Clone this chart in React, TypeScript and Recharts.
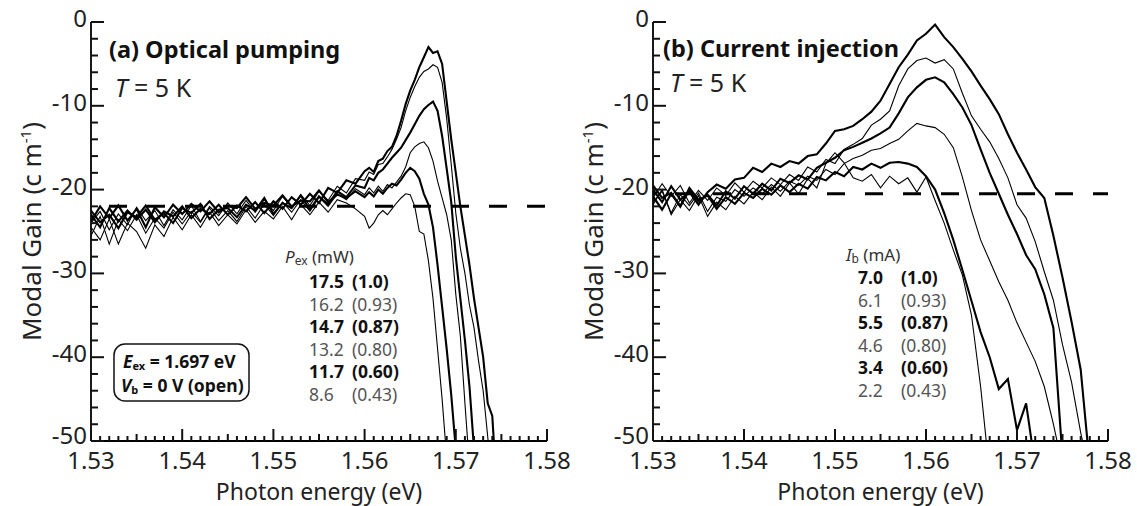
import { LineChart, Line, XAxis, YAxis, ReferenceLine } from "recharts";

const FONT = "'Noto Sans', 'DejaVu Sans', sans-serif";

// ---- axis ticks ----
const xMajorTicks = [1.53, 1.54, 1.55, 1.56, 1.57, 1.58];
const yMajorTicks = [0, -10, -20, -30, -40, -50];
const xTicks = Array.from({ length: 51 }, (_, i) => +(1.53 + i * 0.001).toFixed(3));
const yTicks = Array.from({ length: 26 }, (_, i) => -2 * i);

// ---- (a) optical pumping ----
const energyA = [
  1.530, 1.531, 1.532, 1.533, 1.534, 1.535, 1.536, 1.537, 1.538, 1.539,
  1.540, 1.541, 1.542, 1.543, 1.544, 1.545, 1.546, 1.547, 1.548, 1.549,
  1.550, 1.551, 1.552, 1.553, 1.554, 1.555, 1.556, 1.557, 1.558, 1.559,
  1.560, 1.5605, 1.561, 1.5615, 1.562, 1.5625, 1.563, 1.5635, 1.564, 1.5645,
  1.565, 1.5655, 1.566, 1.5665, 1.567, 1.5675, 1.568, 1.5685, 1.569, 1.5695,
  1.570, 1.5705, 1.571, 1.5715, 1.572, 1.5725, 1.573, 1.5735, 1.574, 1.5745,
];
const gainA175 = [
  -23.0, -24.5, -22.2, -23.8, -22.5, -23.6, -22.4, -23.9, -22.6, -23.2,
  -22.0, -23.4, -22.3, -22.9, -21.8, -23.0, -21.9, -22.6, -21.5, -22.8,
  -21.4, -22.3, -20.9, -21.8, -20.5, -21.6, -19.8, -20.4, -18.9, -19.3,
  -17.8, -17.4, -17.9, -16.6, -16.3, -15.4, -14.9, -13.6, -11.8, -9.8,
  -8.2, -6.9, -5.4, -4.2, -3.0, -3.7, -3.5, -5.0, -9.5, -14.0,
  -18.0, -22.0, -25.5, -29.0, -33.0, -36.5, -40.0, -45.5, -47.0, -56,
];
const gainA162 = [
  -24.0, -22.6, -24.8, -22.9, -24.2, -22.1, -23.7, -22.5, -24.3, -22.4,
  -23.6, -21.9, -23.8, -22.0, -23.1, -21.6, -22.9, -21.3, -22.7, -21.2,
  -22.5, -20.8, -22.1, -20.6, -21.9, -20.2, -21.3, -19.6, -20.4, -18.7,
  -18.9, -17.9, -18.2, -17.0, -16.9, -16.1, -15.2, -14.0, -12.6, -10.6,
  -9.0, -7.7, -6.6, -5.9, -5.6, -5.1, -5.4, -7.2, -11.5, -17.0,
  -22.8, -27.0, -30.0, -33.8, -36.5, -40.5, -44.0, -49.5, -55, null,
];
const gainA147 = [
  -22.5, -23.9, -23.0, -24.6, -22.7, -23.3, -21.9, -23.6, -22.8, -24.0,
  -22.2, -22.8, -21.7, -23.5, -22.4, -22.2, -23.3, -21.8, -22.5, -21.0,
  -22.9, -21.6, -22.2, -20.7, -22.4, -20.8, -21.8, -20.2, -20.9, -19.5,
  -19.8, -18.6, -18.9, -18.0, -17.6, -16.9, -16.2, -15.6, -15.0, -14.1,
  -13.2, -12.2, -11.2, -10.4, -9.9, -9.5, -10.6, -13.6, -17.5, -21.5,
  -28.0, -33.0, -38.0, -43.5, -51, null, null, null, null, null,
];
const gainA132 = [
  -25.5, -23.2, -26.5, -23.6, -24.9, -23.0, -25.2, -23.4, -24.6, -22.7,
  -24.1, -22.6, -23.9, -22.2, -23.7, -22.5, -23.8, -22.0, -23.4, -21.7,
  -23.1, -21.5, -22.7, -21.2, -22.6, -20.9, -22.0, -20.5, -21.2, -19.9,
  -20.6, -19.8, -20.4, -19.6, -20.2, -19.4, -19.8, -19.1, -18.4, -17.3,
  -15.6, -14.9, -14.5, -14.3, -15.0, -16.6, -19.0, -21.0, -23.0, -26.0,
  -32.5, -37.5, -45.5, -53, null, null, null, null, null, null,
];
const gainA117 = [
  -23.8, -22.0, -23.4, -21.9, -23.7, -22.3, -24.5, -22.1, -23.3, -21.8,
  -22.9, -21.7, -22.6, -21.4, -22.7, -21.9, -22.2, -20.9, -22.3, -21.6,
  -21.9, -20.7, -22.0, -21.3, -21.4, -20.1, -21.5, -20.6, -21.0, -20.2,
  -20.9, -20.3, -20.8, -20.0, -20.5, -19.8, -19.3, -19.5, -18.8, -18.0,
  -17.4, -17.8, -18.7, -20.5, -21.8, -24.5, -29.0, -34.0, -39.0, -44.5,
  -51, null, null, null, null, null, null, null, null, null,
];
const gainA86 = [
  -24.5, -26.0, -23.5, -26.5, -24.0, -25.0, -27.0, -24.2, -25.6, -23.3,
  -24.8, -23.0, -24.5, -22.7, -24.3, -23.0, -24.1, -22.4, -23.9, -22.6,
  -23.5, -22.0, -23.6, -21.8, -23.0, -21.5, -22.7, -21.2, -21.6, -22.3,
  -23.2, -24.6, -24.0, -23.0, -22.5, -23.0, -22.3, -21.6, -21.0, -20.5,
  -20.6, -22.0, -25.0, -25.3, -28.5, -33.0, -39.0, -45.0, -52, null,
  null, null, null, null, null, null, null, null, null, null,
];
const powersA = ["17.5", "16.2", "14.7", "13.2", "11.7", "8.6"];

// ---- (b) current injection ----
const energyB = [
  1.530, 1.531, 1.532, 1.533, 1.534, 1.535, 1.536, 1.537, 1.538, 1.539,
  1.540, 1.541, 1.542, 1.543, 1.544, 1.545, 1.546, 1.547, 1.548, 1.549,
  1.550, 1.551, 1.552, 1.553, 1.554, 1.555, 1.556, 1.557, 1.558, 1.559,
  1.560, 1.561, 1.562, 1.563, 1.564, 1.565, 1.566, 1.567, 1.568, 1.569,
  1.570, 1.571, 1.572, 1.573, 1.574, 1.575, 1.576, 1.577, 1.578,
];
const gainB70 = [
  -20.0, -21.5, -19.6, -21.2, -20.3, -21.8, -20.3, -19.4, -19.9, -18.8,
  -18.6, -17.4, -17.9, -16.9, -17.3, -16.6, -16.9, -16.0, -15.8, -14.5,
  -13.0, -12.8, -12.4, -11.6, -10.7, -9.4, -7.4, -5.4, -3.9, -2.2,
  -1.4, -0.3, -1.8, -3.0, -4.4, -5.9, -7.6, -9.2, -11.0, -13.4,
  -15.6, -17.6, -19.7, -21.0, -25.5, -30.5, -35.8, -41.5, -53,
];
const gainB61 = [
  -21.0, -19.3, -20.8, -19.5, -21.6, -20.1, -21.3, -19.8, -20.7, -19.2,
  -20.3, -19.0, -19.8, -18.6, -19.4, -18.2, -18.9, -17.3, -17.9, -16.4,
  -16.9, -15.2, -14.6, -13.9, -12.3, -11.6, -10.6, -7.6, -5.6, -4.6,
  -4.3, -4.9, -4.5, -5.6, -8.5, -11.2, -12.8, -14.3, -16.3, -18.6,
  -21.8, -23.4, -26.2, -29.8, -33.2, -38.5, -43.0, -49.0, -54,
];
const gainB55 = [
  -19.5, -21.0, -20.4, -22.0, -20.0, -21.4, -20.6, -21.9, -20.2, -21.1,
  -19.6, -20.5, -19.3, -20.1, -18.7, -19.2, -18.3, -18.8, -17.4, -16.8,
  -16.2, -15.3, -14.9, -14.4, -13.9, -13.3, -12.6, -10.9, -9.0, -7.8,
  -6.9, -6.6, -7.2, -8.6, -10.2, -12.3, -15.2, -18.0, -20.5, -23.0,
  -25.3, -27.8, -29.5, -32.5, -36.5, -52, null, null, null,
];
const gainB46 = [
  -21.5, -20.2, -22.8, -20.6, -21.9, -20.4, -22.6, -20.9, -21.4, -20.0,
  -20.8, -19.8, -20.5, -19.4, -20.2, -19.0, -19.5, -18.4, -18.9, -17.6,
  -18.2, -16.9, -16.3, -15.9, -15.3, -15.1, -14.5, -14.0, -13.0, -12.1,
  -12.4, -12.6, -13.4, -15.0, -18.5, -22.5, -26.0, -28.5, -31.0, -33.2,
  -35.9, -38.2, -40.5, -43.5, -48.0, -53, null, null, null,
];
const gainB34 = [
  -20.8, -22.4, -20.5, -22.0, -19.8, -21.2, -20.7, -22.3, -20.9, -21.7,
  -20.4, -21.0, -19.9, -20.6, -19.5, -20.3, -19.3, -19.9, -18.5, -18.9,
  -17.9, -18.4, -17.3, -17.6, -16.9, -17.4, -16.8, -16.7, -16.9, -17.3,
  -18.4, -20.0, -22.8, -26.0, -29.6, -33.3, -37.0, -40.0, -43.8, -42.6,
  -48.7, -45.5, -53, null, null, null, null, null, null,
];
const gainB22 = [
  -21.8, -20.0, -23.0, -21.2, -22.5, -20.7, -23.2, -21.5, -22.4, -20.8,
  -21.7, -20.3, -21.2, -19.7, -20.8, -19.2, -20.5, -18.7, -19.8, -16.9,
  -15.6, -16.8, -18.6, -19.0, -18.2, -19.8, -18.4, -19.3, -18.6, -20.3,
  -18.5, -21.3, -24.0, -27.2, -30.2, -35.0, -43.5, -54, null, null,
  null, null, null, null, null, null, null, null, null,
];
const currentsB = ["7.0", "6.1", "5.5", "4.6", "3.4", "2.2"];
const ratios = ["(1.0)", "(0.93)", "(0.87)", "(0.80)", "(0.60)", "(0.43)"];

const seriesA = [gainA175, gainA162, gainA147, gainA132, gainA117, gainA86];
const seriesB = [gainB70, gainB61, gainB55, gainB46, gainB34, gainB22];

const rowsA = energyA.map((e, i) => {
  const r: Record<string, number | null> = { e };
  seriesA.forEach((s, k) => (r["s" + k] = s[i]));
  return r;
});
const rowsB = energyB.map((e, i) => {
  const r: Record<string, number | null> = { e };
  seriesB.forEach((s, k) => (r["s" + k] = s[i]));
  return r;
});

const LABEL_SIZE = 24;
const TICK_W = 2;
const TICK_COLOR = "#111";

function xTickLen(v: number) {
  const k = Math.round((v - 1.53) * 1000);
  if (k % 10 === 0) return 12;
  return k % 5 === 0 ? 7 : 5;
}

function BottomTick(props: any) {
  const x = Number(props.x);
  const y = Number(props.y);
  const v = Number(props.payload.value);
  const major = xMajorTicks.some((t) => Math.abs(t - v) < 1e-6);
  return (
    <g>
      <path d={`M${x},${y}V${y - xTickLen(v)}`} stroke={TICK_COLOR} strokeWidth={TICK_W} fill="none" />
      {major && (
        <text x={x} y={y + 28} textAnchor="middle" fontSize={LABEL_SIZE} fill="#222" stroke="none">
          {v.toFixed(2)}
        </text>
      )}
    </g>
  );
}

function TopTick(props: any) {
  const x = Number(props.x);
  const y = Number(props.y);
  const v = Number(props.payload.value);
  return <path d={`M${x},${y}V${y + xTickLen(v)}`} stroke={TICK_COLOR} strokeWidth={TICK_W} fill="none" />;
}

function LeftTick(props: any) {
  const x = Number(props.x);
  const y = Number(props.y);
  const v = Number(props.payload.value);
  const major = yMajorTicks.includes(v);
  return (
    <g>
      <path d={`M${x},${y}H${x + (major ? 13 : 7)}`} stroke={TICK_COLOR} strokeWidth={TICK_W} fill="none" />
      {major && (
        <text x={x - 4} y={y + (v === -50 ? 3 : 5)} textAnchor="end" fontSize={LABEL_SIZE} fill="#222" stroke="none">
          {v}
        </text>
      )}
    </g>
  );
}

function XTitle(props: any) {
  const vb = props.viewBox;
  return (
    <text x={vb.x + vb.width / 2} y={vb.y + 58.5} textAnchor="middle" fontSize={23} fill="#222">
      Photon energy (eV)
    </text>
  );
}

function YTitle(props: any) {
  const vb = props.viewBox;
  const cx = vb.x + 1;
  const cy = vb.y + vb.height / 2;
  return (
    <text
      x={cx}
      y={cy}
      dy="0.36em"
      textAnchor="middle"
      fontSize={26}
      fill="#222"
      transform={`rotate(-90, ${cx}, ${cy})`}
    >
      Modal Gain (c m
      <tspan fontSize={15} dy={-10}>-1</tspan>
      <tspan dy={10}>)</tspan>
    </text>
  );
}

interface PanelProps {
  rows: Record<string, number | null>[];
  width: number;
  left: number;
  right: number;
  refY: number;
  dashOffset: number;
}

function Panel({ rows, width, left, right, refY, dashOffset }: PanelProps) {
  const axisLine = { stroke: "#000", strokeWidth: 1.8 };
  return (
    <LineChart width={width} height={506} data={rows} margin={{ top: 22, right, bottom: 25, left }}>
      <XAxis
        xAxisId="b"
        dataKey="e"
        type="number"
        domain={[1.53, 1.58]}
        allowDataOverflow
        ticks={xTicks}
        interval={0}
        tickSize={0}
        tickMargin={0}
        tickLine={false}
        tick={(p: any) => <BottomTick {...p} />}
        axisLine={axisLine}
        height={40}
        label={{ content: (p: any) => <XTitle {...p} /> }}
      />
      <XAxis
        xAxisId="t"
        orientation="top"
        dataKey="e"
        type="number"
        domain={[1.53, 1.58]}
        allowDataOverflow
        ticks={xTicks}
        interval={0}
        tickSize={0}
        tickMargin={0}
        tickLine={false}
        tick={(p: any) => <TopTick {...p} />}
        axisLine={axisLine}
        height={0}
      />
      <YAxis
        yAxisId="l"
        type="number"
        domain={[-50, 0]}
        allowDataOverflow
        ticks={yTicks}
        interval={0}
        tickSize={0}
        tickMargin={0}
        tickLine={false}
        tick={(p: any) => <LeftTick {...p} />}
        axisLine={axisLine}
        width={60}
        label={{ content: (p: any) => <YTitle {...p} /> }}
      />
      <YAxis
        yAxisId="r"
        orientation="right"
        type="number"
        domain={[-50, 0]}
        tick={false}
        tickLine={false}
        axisLine={axisLine}
        width={0}
      />
      <ReferenceLine
        xAxisId="b"
        yAxisId="l"
        y={refY}
        stroke="#000"
        strokeWidth={3}
        strokeDasharray="18 20"
        strokeDashoffset={dashOffset}
      />
      {[0, 1, 2, 3, 4, 5].map((k) => (
        <Line
          key={k}
          xAxisId="b"
          yAxisId="l"
          dataKey={"s" + k}
          type="linear"
          stroke="#000"
          strokeWidth={k % 2 === 0 ? 2.1 : 1.1}
          dot={false}
          activeDot={false}
          isAnimationActive={false}
        />
      ))}
    </LineChart>
  );
}

export default function App() {
  const legendRowsA = [282, 304.5, 327, 349.5, 372, 394.5];
  const legendRowsB = [278, 300.5, 323, 345.5, 368, 390.5];
  const rowWeight = (i: number) => (i % 2 === 0 ? 700 : 400);
  const rowFill = (i: number) => (i % 2 === 0 ? "#111" : "#555");
  return (
    <div style={{ position: "absolute", left: 0, top: 0, width: 1137, height: 506, fontFamily: FONT, background: "#fff" }}>
      <div style={{ position: "absolute", left: 0, top: 0 }}>
        <Panel rows={rowsA} width={580} left={31} right={33} refY={-22} dashOffset={20} />
      </div>
      <div style={{ position: "absolute", left: 560, top: 0 }}>
        <Panel rows={rowsB} width={577} left={33} right={29} refY={-20.5} dashOffset={16} />
      </div>
      <svg
        width={1137}
        height={506}
        style={{ position: "absolute", left: 0, top: 0, pointerEvents: "none", fontFamily: FONT }}
      >
        {/* panel a annotations */}
        <text x={109} y={58} fontSize={23.5} fontWeight={700} fill="#111">(a) Optical pumping</text>
        <text x={115} y={97} fontSize={25} fill="#222">
          <tspan fontStyle="italic">T</tspan> = 5 K
        </text>
        <text x={285} y={263} fontSize={17} fill="#333">
          <tspan fontStyle="italic">P</tspan>
          <tspan fontSize={12} dy={2}>ex</tspan>
          <tspan dy={-2}> (mW)</tspan>
        </text>
        {powersA.map((p, i) => (
          <g key={p}>
            <text x={309} y={legendRowsA[i] + 6} fontSize={17.5} fontWeight={rowWeight(i)} fill={rowFill(i)}>{p}</text>
            <text x={352} y={legendRowsA[i] + 6} fontSize={17.5} fontWeight={rowWeight(i)} fill={rowFill(i)}>{ratios[i]}</text>
          </g>
        ))}
        <rect x={114} y={344} width={135} height={57} rx={11} ry={11} fill="none" stroke="#111" strokeWidth={1.5} />
        <text x={123} y={368} fontSize={17.5} fontWeight={700} fill="#111">
          <tspan fontStyle="italic">E</tspan>
          <tspan fontSize={11} dy={2}>ex</tspan>
          <tspan dy={-2}> = 1.697 eV</tspan>
        </text>
        <text x={121} y={392} fontSize={17.5} fontWeight={700} fill="#111">
          <tspan fontStyle="italic">V</tspan>
          <tspan fontSize={11} dy={2}>b</tspan>
          <tspan dy={-2}> = 0 V (open)</tspan>
        </text>

        {/* panel b annotations */}
        <text x={663} y={57} fontSize={23.5} fontWeight={700} fill="#111">(b) Current injection</text>
        <text x={670} y={92} fontSize={25} fill="#222">
          <tspan fontStyle="italic">T</tspan> = 5 K
        </text>
        <text x={846} y={261} fontSize={17} fill="#333">
          <tspan fontStyle="italic">I</tspan>
          <tspan fontSize={12} dy={2}>b</tspan>
          <tspan dy={-2}> (mA)</tspan>
        </text>
        {currentsB.map((c, i) => (
          <g key={c}>
            <text x={858} y={legendRowsB[i] + 6} fontSize={17.5} fontWeight={rowWeight(i)} fill={rowFill(i)}>{c}</text>
            <text x={901} y={legendRowsB[i] + 6} fontSize={17.5} fontWeight={rowWeight(i)} fill={rowFill(i)}>{ratios[i]}</text>
          </g>
        ))}
      </svg>
    </div>
  );
}
